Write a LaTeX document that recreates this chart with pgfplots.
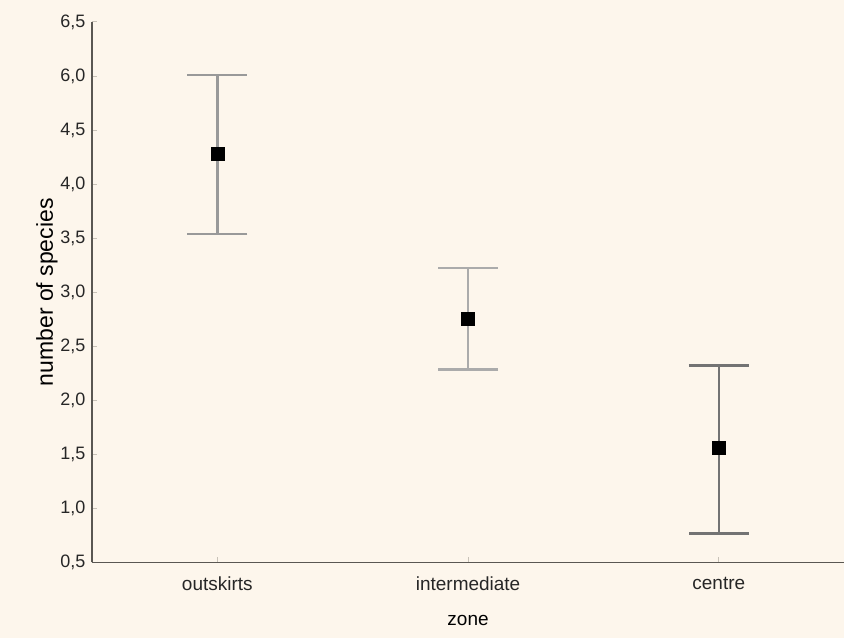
\documentclass[border=0pt]{standalone}
\usepackage{pgfplots}
\pgfplotsset{compat=1.18}
\usepackage{fontspec}
\setmainfont{Liberation Sans}
\definecolor{bg}{HTML}{FDF6EC}
\definecolor{axl}{HTML}{5A5752}
\definecolor{tk}{HTML}{C8C2B8}
\begin{document}
\begin{tikzpicture}
\fill[bg] (-92pt,-76pt) rectangle (753pt,563pt);
\begin{axis}[
  scale only axis,
  width=753pt, height=541pt,
  xmin=-0.5, xmax=2.5,
  ymin=0.5, ymax=5.5,
  axis lines=left,
  axis line style={-, color=axl, line width=1.6pt},
  xtick={0,1,2},
  xticklabels={outskirts,intermediate,centre},
  ytick={0.5,1,1.5,2,2.5,3,3.5,4,4.5,5,5.5},
  yticklabels={{0,5},{1,0},{1,5},{2,0},{2,5},{3,0},{3,5},{4,0},{4,5},{6,0},{6,5}},
  tick align=inside,
  major tick length=5pt,
  tick style={color=tk, line width=1pt},
  yticklabel style={font=\fontsize{18}{20}\selectfont, color=black!85, xshift=-3pt},
  xticklabel style={font=\fontsize{19}{22}\selectfont, color=black!85, yshift=-11pt},
  xlabel={zone},
  ylabel={number of species},
  xlabel style={font=\fontsize{19}{22}\selectfont, yshift=-18pt},
  ylabel style={font=\fontsize{23}{26}\selectfont, yshift=-4pt},
  clip=false,
]
\addplot[only marks, mark=square*, mark size=6.5pt, color=black,
  error bars/.cd, y dir=both, y explicit,
  error bar style={color=black!40, line width=2.5pt},
  error mark=|, error mark options={mark size=30pt, line width=2.5pt, color=black!40}]
  coordinates {(0,4.278) += (0,0.731) -= (0,0.741)};
\addplot[only marks, mark=square*, mark size=6.5pt, color=black,
  error bars/.cd, y dir=both, y explicit,
  error bar style={color=black!33, line width=2.5pt},
  error mark=|, error mark options={mark size=30pt, line width=2.5pt, color=black!33}]
  coordinates {(1,2.759) += (0,0.463) -= (0,0.472)};
\addplot[only marks, mark=square*, mark size=6.5pt, color=black,
  error bars/.cd, y dir=both, y explicit,
  error bar style={color=black!55, line width=2pt},
  error mark=|, error mark options={mark size=30pt, line width=2.5pt, color=black!55}]
  coordinates {(2,1.565) += (0,0.759) -= (0,0.796)};
\end{axis}
\end{tikzpicture}
\end{document}
